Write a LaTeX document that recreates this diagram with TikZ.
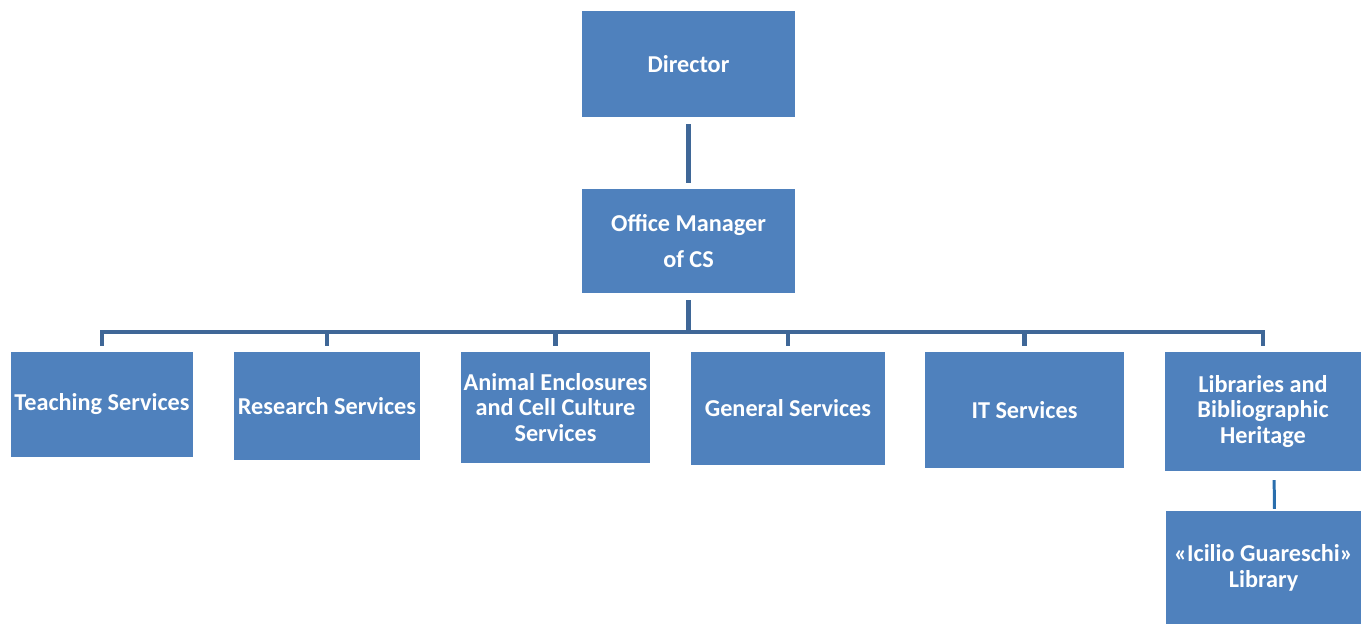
\documentclass[tikz,border=0pt]{standalone}
\usepackage{fontspec}
\setmainfont{Carlito}
\usetikzlibrary{positioning}
\definecolor{boxblue}{HTML}{4F81BD}
\definecolor{linkblue}{HTML}{3F6797}
\definecolor{sublink}{HTML}{2A6EAD}

\begin{document}
\begin{tikzpicture}[x=0.02cm, y=-0.02cm, line join=miter,
  unit/.style={fill=boxblue, text=white, font=\fontsize{13.8}{14.7}\selectfont\bfseries, align=center, inner sep=0pt},
  link/.style={linkblue, line width=2.5pt, shorten <=4pt, shorten >=3pt}]

\useasboundingbox (0,0) rectangle (1361,624);

\node[unit, minimum width=4.26cm, minimum height=2.12cm] (director) at (688.5,64) {Director};
\node[unit, minimum width=4.28cm, minimum height=2.08cm] (office) at (688.5,241) {Office Manager\\[6pt]of CS};

\node[unit, minimum width=3.64cm, minimum height=2.10cm] (teach) at (102,404.5) {Teaching Services};
\node[unit, minimum width=3.72cm, minimum height=2.16cm] (research) at (327,406) {Research Services};
\node[unit, minimum width=3.78cm, minimum height=2.22cm] (animal) at (555.5,407.5) {Animal Enclosures\\and Cell Culture\\Services};
\node[unit, minimum width=3.88cm, minimum height=2.26cm] (general) at (788,408.5) {General Services};
\node[unit, minimum width=3.98cm, minimum height=2.32cm] (itserv) at (1024.5,410) {IT Services};
\node[unit, minimum width=3.92cm, minimum height=2.38cm] (libs) at (1263,411.5) {Libraries and\\Bibliographic\\Heritage};
\node[unit, minimum width=3.90cm, minimum height=2.26cm] (guareschi) at (1263.5,567.5) {«Icilio Guareschi»\\Library};

\coordinate (bus) at (688.5,332);

\draw[link] (director) -- (office);
\foreach \n in {teach, research, animal, general, itserv, libs}
  \draw[link] (office.south) -- (bus) -| (\n.north);

\draw[sublink, line width=1.7pt, shorten <=5pt, shorten >=1pt] ([xshift=0.22cm]libs.south) -- ([xshift=0.22cm]guareschi.north);

\end{tikzpicture}
\end{document}
